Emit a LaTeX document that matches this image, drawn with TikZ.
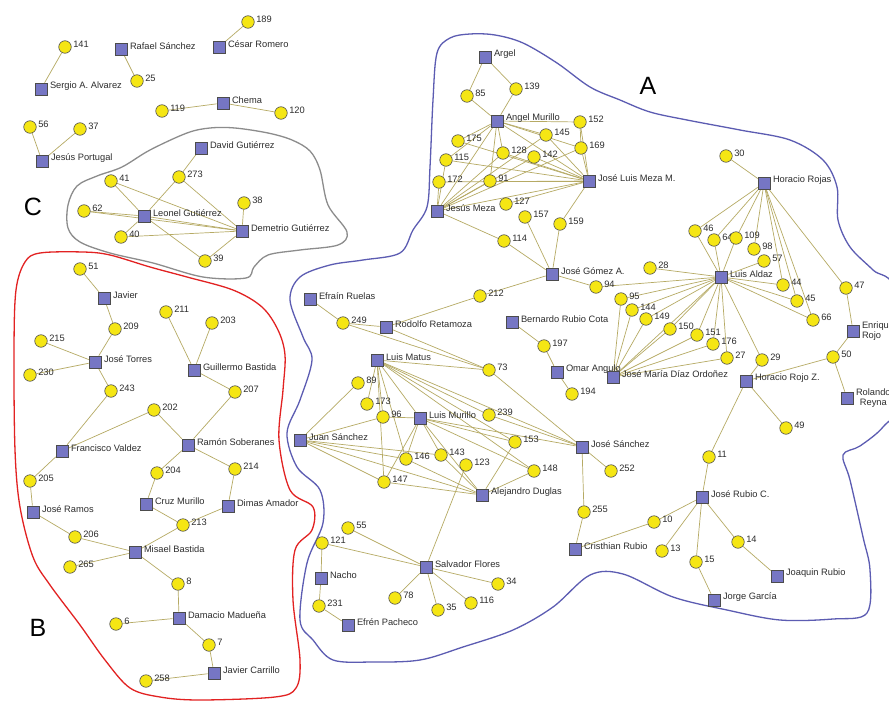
\documentclass[tikz,border=0pt]{standalone}
\usepackage{fontspec}
\setmainfont{Liberation Sans}
\usepackage{xcolor}
\definecolor{yell}{RGB}{245,230,20}
\definecolor{lila}{RGB}{118,118,196}
\definecolor{khaki}{RGB}{182,170,100}
\definecolor{rimblue}{RGB}{92,92,178}
\definecolor{rimred}{RGB}{226,34,34}
\definecolor{rimgray}{RGB}{140,140,140}
\definecolor{txt}{RGB}{45,45,45}
\usepackage{tikz}
\usetikzlibrary{backgrounds}
\tikzset{
  numlbl/.style={inner sep=1pt,text=txt,font=\fontsize{9.3}{10}\selectfont,xshift=0.5pt,yshift=3pt},
  perslbl/.style={inner sep=1pt,text=txt,font=\fontsize{9.3}{10}\selectfont,xshift=1.5pt,yshift=2.5pt},
  num/.style={circle,draw=black!70,fill=yell,minimum size=12.5pt,inner sep=0pt,line width=0.6pt,
    label={[numlbl]0:#1}},
  pers/.style={rectangle,draw=black!70,fill=lila,minimum size=12pt,inner sep=0pt,line width=0.6pt,
    label={[perslbl]0:#1}},
  pers2/.style={rectangle,draw=black!70,fill=lila,minimum size=12pt,inner sep=0pt,line width=0.6pt,
    label={[perslbl,align=center,yshift=-2.5pt]0:#1}},
  pers3/.style={rectangle,draw=black!70,fill=lila,minimum size=12pt,inner sep=0pt,line width=0.6pt,
    label={[perslbl,align=left,yshift=-2.5pt]0:#1}},
  tie/.style={draw=khaki,line width=0.7pt},
  rimA/.style={draw=rimblue,line width=1.3pt},
  rimB/.style={draw=rimred,line width=1.3pt},
  rimC/.style={draw=rimgray,line width=1.3pt},
  zone/.style={text=black,font=\fontsize{25}{25}\selectfont},
}
\begin{document}
\begin{tikzpicture}[x=1pt,y=-1pt]
  \useasboundingbox (0,0) rectangle (889,701);

  % lone groups, top left
  \node[num=189] (n189) at (248,22) {};
  \node[pers=César Romero] (cromero) at (219,47) {};
  \node[num=141] (n141) at (65,47) {};
  \node[pers=Rafael Sánchez] (rsanchez) at (121,49) {};
  \node[num=25] (n25) at (137,81) {};
  \node[pers=Sergio A. Alvarez] (salvarez) at (41,89) {};
  \node[pers=Chema] (chema) at (223,103) {};
  \node[num=119] (n119) at (162,111) {};
  \node[num=120] (n120) at (281,113) {};
  \node[num=56] (n56) at (30,127) {};
  \node[num=37] (n37) at (80,129) {};
  \node[pers=Jesús Portugal] (jportugal) at (42,161) {};

  % group C
  \node[zone] (labC) at (33,207) {C};
  \node[pers=David Gutiérrez] (dgutierrez) at (201,148) {};
  \node[num=273] (n273) at (179,177) {};
  \node[num=41] (n41) at (111,181) {};
  \node[num=38] (n38) at (244,203) {};
  \node[num=62] (n62) at (84,211) {};
  \node[pers=Leonel Gutiérrez] (lgutierrez) at (144,216) {};
  \node[pers=Demetrio Gutiérrez] (demetrio) at (242,231) {};
  \node[num=40] (n40) at (121,237) {};
  \node[num=39] (n39) at (205,261) {};

  % group B
  \node[zone] (labB) at (38,628) {B};
  \node[num=51] (n51) at (80,269) {};
  \node[pers=Javier] (javier) at (104,298) {};
  \node[num=209] (n209) at (115,329) {};
  \node[num=211] (n211) at (166,312) {};
  \node[num=203] (n203) at (212,323) {};
  \node[num=215] (n215) at (41,341) {};
  \node[pers=José Torres] (jtorres) at (95,362) {};
  \node[num=230] (n230) at (30,375) {};
  \node[pers=Guillermo Bastida] (gbastida) at (194,370) {};
  \node[num=207] (n207) at (235,392) {};
  \node[num=243] (n243) at (111,391) {};
  \node[num=202] (n202) at (154,410) {};
  \node[pers=Francisco Valdez] (fvaldez) at (62,451) {};
  \node[pers=Ramón Soberanes] (rsoberanes) at (188,445) {};
  \node[num=204] (n204) at (157,473) {};
  \node[num=214] (n214) at (235,469) {};
  \node[num=205] (n205) at (30,481) {};
  \node[pers=Cruz Murillo] (cmurillo) at (146,504) {};
  \node[pers=Dimas Amador] (damador) at (228,506) {};
  \node[pers=José Ramos] (jramos) at (33,512) {};
  \node[num=213] (n213) at (183,525) {};
  \node[num=206] (n206) at (75,537) {};
  \node[pers=Misael Bastida] (mbastida) at (135,552) {};
  \node[num=265] (n265) at (70,567) {};
  \node[num=8] (n8) at (178,584) {};
  \node[pers=Damacio Madueña] (dmadueña) at (179,618) {};
  \node[num=6] (n6) at (116,624) {};
  \node[num=7] (n7) at (209,645) {};
  \node[pers=Javier Carrillo] (jcarrillo) at (214,673) {};
  \node[num=258] (n258) at (146,681) {};

  % group A
  \node[zone] (labA) at (648,86) {A};
  \node[pers=Argel] (argel) at (485,57) {};
  \node[num=85] (n85) at (467,96) {};
  \node[num=139] (n139) at (516,89) {};
  \node[pers=Angel Murillo] (amurillo) at (497,121) {};
  \node[num=152] (n152) at (580,122) {};
  \node[num=175] (n175) at (458,141) {};
  \node[num=145] (n145) at (546,135) {};
  \node[num=169] (n169) at (581,148) {};
  \node[num=128] (n128) at (503,153) {};
  \node[num=142] (n142) at (534,157) {};
  \node[num=115] (n115) at (446,160) {};
  \node[num=91] (n91) at (490,181) {};
  \node[num=172] (n172) at (439,182) {};
  \node[pers=José Luis Meza M.] (jlmeza) at (589,181) {};
  \node[pers=Jesús Meza] (jmeza) at (437,211) {};
  \node[num=127] (n127) at (506,204) {};
  \node[num=157] (n157) at (525,217) {};
  \node[num=159] (n159) at (560,224) {};
  \node[num=114] (n114) at (504,241) {};
  \node[pers=José Gómez A.] (jgomez) at (552,274) {};
  \node[num=212] (n212) at (480,296) {};
  \node[num=94] (n94) at (596,287) {};
  \node[num=28] (n28) at (650,268) {};
  \node[pers=Efraín Ruelas] (eruelas) at (310,299) {};
  \node[num=249] (n249) at (343,323) {};
  \node[pers=Rodolfo Retamoza] (rretamoza) at (386,327) {};
  \node[pers=Bernardo Rubio Cota] (bcota) at (512,322) {};
  \node[num=197] (n197) at (544,346) {};
  \node[pers=Luis Matus] (lmatus) at (377,360) {};
  \node[num=73] (n73) at (489,370) {};
  \node[pers=Omar Angulo] (oangulo) at (557,372) {};
  \node[num=194] (n194) at (572,394) {};
  \node[num=89] (n89) at (358,383) {};
  \node[num=173] (n173) at (367,404) {};
  \node[num=96] (n96) at (383,417) {};
  \node[pers=Luis Murillo] (lmurillo) at (420,418) {};
  \node[num=239] (n239) at (489,415) {};
  \node[pers=Juan Sánchez] (jusanchez) at (300,440) {};
  \node[num=153] (n153) at (515,442) {};
  \node[pers=José Sánchez] (jsanchez) at (582,447) {};
  \node[num=146] (n146) at (406,459) {};
  \node[num=143] (n143) at (441,455) {};
  \node[num=123] (n123) at (466,465) {};
  \node[num=148] (n148) at (534,471) {};
  \node[num=252] (n252) at (611,471) {};
  \node[num=147] (n147) at (384,482) {};
  \node[pers=Alejandro Duglas] (aduglas) at (482,495) {};
  \node[num=255] (n255) at (584,512) {};
  \node[num=55] (n55) at (348,528) {};
  \node[num=121] (n121) at (322,543) {};
  \node[pers=Cristhian Rubio] (crubio) at (575,549) {};
  \node[pers=Salvador Flores] (sflores) at (426,567) {};
  \node[pers=Nacho] (nacho) at (321,578) {};
  \node[num=34] (n34) at (498,584) {};
  \node[num=78] (n78) at (395,598) {};
  \node[num=116] (n116) at (471,603) {};
  \node[num=35] (n35) at (438,610) {};
  \node[num=231] (n231) at (319,606) {};
  \node[pers=Efrén Pacheco] (epacheco) at (348,625) {};

  \node[num=30] (n30) at (726,156) {};
  \node[pers=Horacio Rojas] (hrojas) at (764,183) {};
  \node[num=46] (n46) at (695,231) {};
  \node[num=64] (n64) at (714,240) {};
  \node[num=109] (n109) at (736,238) {};
  \node[num=98] (n98) at (754,249) {};
  \node[num=57] (n57) at (764,261) {};
  \node[pers=Luis Aldaz] (laldaz) at (721,277) {};
  \node[num=44] (n44) at (783,285) {};
  \node[num=47] (n47) at (846,288) {};
  \node[num=95] (n95) at (621,299) {};
  \node[num=45] (n45) at (797,301) {};
  \node[num=144] (n144) at (632,310) {};
  \node[num=149] (n149) at (646,319) {};
  \node[num=66] (n66) at (813,320) {};
  \node[num=150] (n150) at (670,329) {};
  \node[pers3={Enrique\\Rojo}] (erojo) at (853,331) {};
  \node[num=151] (n151) at (697,335) {};
  \node[num=176] (n176) at (713,344) {};
  \node[num=50] (n50) at (833,357) {};
  \node[num=27] (n27) at (727,358) {};
  \node[num=29] (n29) at (762,360) {};
  \node[pers=José María Díaz Ordoñez] (jmdo) at (613,377) {};
  \node[pers=Horacio Rojo Z.] (hrojoz) at (746,381) {};
  \node[pers2={Rolando\\Reyna}] (rreyna) at (847,398) {};
  \node[num=49] (n49) at (786,428) {};
  \node[num=11] (n11) at (709,457) {};
  \node[pers=José Rubio C.] (jrubio) at (702,497) {};
  \node[num=10] (n10) at (654,522) {};
  \node[num=14] (n14) at (738,542) {};
  \node[num=13] (n13) at (662,551) {};
  \node[num=15] (n15) at (696,562) {};
  \node[pers=Joaquin Rubio] (jqrubio) at (777,576) {};
  \node[pers=Jorge García] (jgarcia) at (714,600) {};

  \begin{scope}[on background layer]
    \fill[white] (0,0) rectangle (889,701);
    % borders of the groups
    \draw[rimC] plot[smooth cycle,tension=0.55] coordinates {(68,205) (77,186) (97,176) (122,167) (150,150) (187,133)
      (210,128) (235,128) (268,133) (292,140) (310,151) (320,170) (328,205) (347,232) (338,245) (300,250)
      (268,255) (254,267) (246,278) (203,277) (153,263) (110,253) (80,242) (68,228)};
    \draw[rimB] plot[smooth cycle,tension=0.55] coordinates {(40,253) (83,252) (110,255) (150,267) (187,277) (233,290)
      (262,307) (278,330) (285,355) (283,390) (279,440) (290,490) (313,507) (312,530) (295,550) (293,600)
      (300,660) (296,688) (275,697) (200,700) (160,697) (130,688) (105,660) (80,625) (50,585) (33,557)
      (20,507) (15,450) (14,350) (16,290) (25,262)};
    \draw[rimA] plot[smooth cycle,tension=0.55] coordinates {(437,53) (450,38) (470,34) (495,35) (523,43) (557,63)
      (590,87) (620,100) (650,112) (687,120) (740,130) (790,140) (823,160) (837,187) (838,220) (850,247)
      (873,270) (895,292) (897,400) (883,427) (860,446) (843,455) (850,480) (863,537) (870,570) (867,613)
      (833,619) (780,620) (727,610) (673,597) (623,574) (590,575) (553,607) (513,630) (463,647) (420,660)
      (373,662) (333,660) (313,640) (300,620) (307,563) (323,523) (320,490) (297,467) (287,433) (300,400)
      (312,360) (303,337) (290,300) (300,277) (330,265) (363,260) (400,253) (413,230) (427,207) (430,167)
      (433,100)};

    % ties
    \foreach \a/\b in {n189/cromero,n141/salvarez,rsanchez/n25,n119/chema,chema/n120,n56/jportugal,n37/jportugal}
      \draw[tie] (\a) -- (\b);
    \foreach \a/\b in {dgutierrez/n273,n273/lgutierrez,n273/demetrio,n41/lgutierrez,n41/demetrio,n38/demetrio,
      n62/lgutierrez,n62/demetrio,lgutierrez/demetrio,n40/demetrio,n40/lgutierrez,lgutierrez/n39,demetrio/n39}
      \draw[tie] (\a) -- (\b);
    \foreach \a/\b in {n51/javier,javier/n209,n209/jtorres,n215/jtorres,n230/jtorres,jtorres/n243,n243/fvaldez,
      n211/gbastida,n203/gbastida,gbastida/n207,n207/rsoberanes,n202/fvaldez,n202/rsoberanes,rsoberanes/n204,
      rsoberanes/n214,n204/cmurillo,n214/damador,fvaldez/n205,n205/jramos,jramos/n206,n206/mbastida,
      cmurillo/n213,damador/n213,n213/mbastida,n265/mbastida,mbastida/n8,n8/dmadueña,n6/dmadueña,
      dmadueña/n7,n7/jcarrillo,n258/jcarrillo}
      \draw[tie] (\a) -- (\b);
    \foreach \a/\b in {argel/n85,argel/n139,n85/amurillo,n139/amurillo,n152/n169,jmeza/n114,
      n114/jgomez,n157/jgomez,n159/jgomez,n212/jgomez,jgomez/n94,n212/rretamoza,eruelas/n249,
      n249/rretamoza,n249/n73,rretamoza/n73,bcota/n197,n197/oangulo,oangulo/n194,n123/sflores,
      n121/nacho,nacho/n231,n231/epacheco,jsanchez/n252,jsanchez/n255,n255/crubio,crubio/n10,
      n10/jrubio,jrubio/n11,jrubio/n13,jrubio/n15,jrubio/n14,n15/jgarcia,n14/jqrubio,n11/hrojoz,
      hrojoz/n29,hrojoz/n49,hrojoz/n50,n50/erojo,n50/rreyna,erojo/n47,n47/hrojas,n29/laldaz,n30/hrojas}
      \draw[tie] (\a) -- (\b);
    \foreach \b in {n152,n145,n169,n128,n91,n175,n115,jmeza,jlmeza}
      \draw[tie] (amurillo) -- (\b);
    \foreach \b in {n152,n169,n145,n142,n128,n175,n115,n172,n91,jmeza,n127,n159}
      \draw[tie] (jlmeza) -- (\b);
    \foreach \b in {n172,n115,n91,n128,n142,n145,n169}
      \draw[tie] (jmeza) -- (\b);
    \foreach \b in {n73,jsanchez,n173,n96,lmurillo,n146,n147,n153,n148,n239}
      \draw[tie] (lmatus) -- (\b);
    \foreach \b in {n239,n73,lmurillo}
      \draw[tie] (jsanchez) -- (\b);
    \foreach \b in {n96,n146,n147,n143,aduglas,n153,n148}
      \draw[tie] (lmurillo) -- (\b);
    \foreach \b in {n89,n96,n146,n143,n147,aduglas}
      \draw[tie] (jusanchez) -- (\b);
    \foreach \b in {n146,n147,n153,n148,n143}
      \draw[tie] (aduglas) -- (\b);
    \foreach \b in {n55,n121,n78,n35,n116,n34}
      \draw[tie] (sflores) -- (\b);
    \foreach \b in {n46,n64,n109,n98,n44,n45,n66}
      \draw[tie] (hrojas) -- (\b);
    \foreach \b in {n46,n64,n109,n57,n28,n94,n95,n144,n149,n150,n151,n176,n27,n44,n45,n66,jmdo}
      \draw[tie] (laldaz) -- (\b);
    \foreach \b in {n95,n144,n149,n150,n151,n176,n27}
      \draw[tie] (jmdo) -- (\b);
  \end{scope}
\end{tikzpicture}
\end{document}
